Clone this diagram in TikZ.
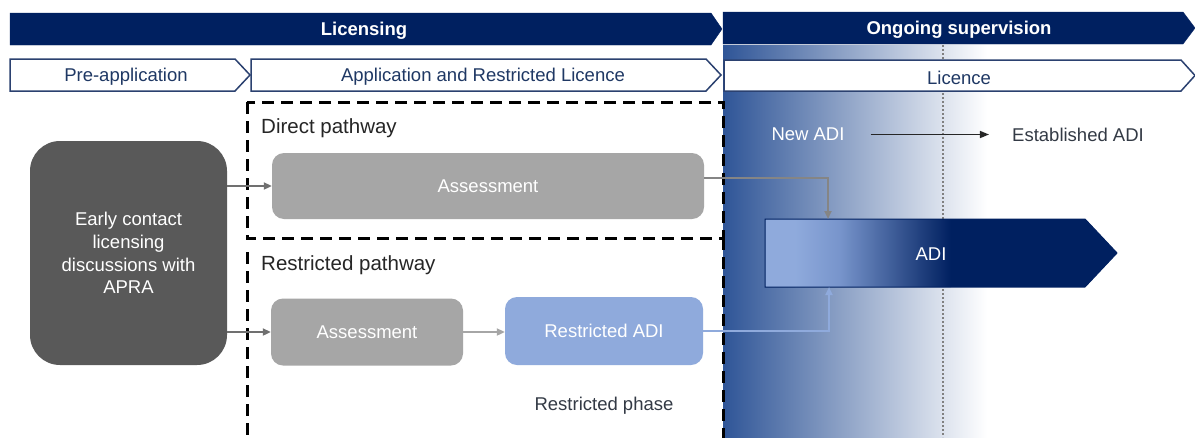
\documentclass[tikz,border=0pt]{standalone}
\usepackage{fontspec}
\setmainfont{Liberation Sans}
\usetikzlibrary{arrows.meta,calc}
\definecolor{navy}{HTML}{002060}
\definecolor{bgblue}{HTML}{2F5597}
\definecolor{adil}{HTML}{8FAADC}
\definecolor{adim}{HTML}{7794CB}
\definecolor{boxgray}{HTML}{A6A6A6}
\definecolor{darkbox}{HTML}{595959}
\definecolor{chevline}{HTML}{2B4170}
\definecolor{chevtext}{HTML}{1F3864}
\definecolor{txtdark}{HTML}{262626}
\definecolor{txtmid}{HTML}{333A45}
\definecolor{arrgray}{HTML}{707070}
\tikzset{
  fnt/.style={font=\fontsize{18.5}{22.7}\selectfont},
  txt/.style={fnt, yshift=-1.5pt},
  banner/.style={fill=navy, draw=navy},
  chev/.style={fill=white, draw=chevline, line width=1.5pt, line join=miter},
  bantext/.style={txt, text=white, font=\fontsize{18.5}{22.7}\selectfont\bfseries},
  chevtxt/.style={txt, text=chevtext},
  pathbox/.style={draw=black, line width=3pt, dash pattern=on 12pt off 7pt},
  stepnode/.style={fnt, text=white, rounded corners=12pt, inner sep=0pt, align=center},
  conn/.style={line width=2pt, -{Triangle[length=8pt,width=7pt]}},
  lbl/.style={font=\fontsize{20.5}{24}\selectfont, text=txtdark, inner sep=0pt, anchor=west, yshift=-1.5pt},
}
\begin{document}
\begin{tikzpicture}[x=1pt,y=-1pt]
\useasboundingbox (0,0) rectangle (1195,437);
\fill[white] (0,0) rectangle (1195,437);

% background gradient
\shade[left color=bgblue, right color=white] (723,45) rectangle (987,437);
\draw[gray, line width=1.3pt, dash pattern=on 1.6pt off 2.4pt] (943,45) -- (943,437);

% banners
\path[banner] (10,13) -- (711,13) -- (722,29) -- (711,45) -- (10,45) -- cycle;
\path[banner] (723,12) -- (1183,12) -- (1195,28) -- (1183,44) -- (723,44) -- cycle;
\node[bantext] (lic) at (364,29) {Licensing};
\node[bantext] (ong) at (959,28) {Ongoing supervision};

% chevrons
\path[chev] (10,59) -- (235,59) -- (250,75) -- (235,91) -- (10,91) -- cycle;
\path[chev] (251,59) -- (706,59) -- (721,75) -- (706,91) -- (251,91) -- cycle;
\path[chev] (724,60) -- (1181,60) -- (1195,75.5) -- (1181,91) -- (724,91) -- cycle;
\node[chevtxt] (pre) at (126,75) {Pre-application};
\node[chevtxt] (app) at (483,75) {Application and Restricted Licence};
\node[chevtxt] (licence) at (959,76) {Licence};

% dashed pathway boxes
\draw[pathbox] (247,102) rectangle (723,238);
\draw[pathbox] (247,252) -- (247,445);
\draw[pathbox] (723,238) -- (723,445);
\node[lbl] (dp) at (261,127) {Direct pathway};
\node[lbl] (rp) at (261,264) {Restricted pathway};

% ADI arrow
\begin{scope}
\clip (765,219) -- (1085,219) -- (1117,253) -- (1085,287) -- (765,287) -- cycle;
\fill[navy] (765,219) rectangle (1117,287);
\fill[adil] (765,219) rectangle (796,287);
\shade[left color=adil, right color=adim] (795,219) rectangle (841,287);
\shade[left color=adim, right color=navy] (840,219) rectangle (951,287);
\end{scope}
\draw[navy, line width=1pt] (765,219) -- (1085,219) -- (1117,253) -- (1085,287) -- (765,287) -- cycle;
\node[txt, text=white] (adi) at (931,253) {ADI};
\coordinate (adiT) at (828,219);
\coordinate (adiB) at (829,287);

% nodes
\node[stepnode, fill=darkbox, rounded corners=30pt, minimum width=197pt, minimum height=224pt] (early) at (128.5,253) {Early contact\\licensing\\discussions with\\APRA};
\node[stepnode, fill=boxgray, minimum width=432pt, minimum height=66pt] (dass) at (488,186) {Assessment};
\node[stepnode, fill=boxgray, minimum width=192pt, minimum height=67pt] (rass) at (367,332) {Assessment};
\node[stepnode, fill=adil, minimum width=198pt, minimum height=68pt] (radi) at (604,331) {Restricted ADI};
\node[txt, text=txtmid] (rphase) at (604,404) {Restricted phase};

% connectors
\draw[conn, arrgray] (early.east |- dass.west) -- (dass.west);
\draw[conn, arrgray] (early.east |- rass.west) -- (rass.west);
\draw[conn, boxgray] (rass.east) -- (rass.east -| radi.west);
\draw[conn, arrgray!85] ([yshift=8pt]dass.east) -| (adiT);
\draw[conn, adil] (radi.east) -| (adiB);

% New ADI -> Established ADI
\node[txt, text=white, inner sep=0pt] (newadi) at (808,133) {New ADI};
\node[txt, text=txtmid, inner sep=0pt] (estadi) at (1078,133) {Established ADI};
\draw[line width=1.5pt, txtdark, -{Triangle[length=9pt,width=7pt]}] ([xshift=26pt]newadi.east) -- ([xshift=-23pt]estadi.west);
\end{tikzpicture}
\end{document}
